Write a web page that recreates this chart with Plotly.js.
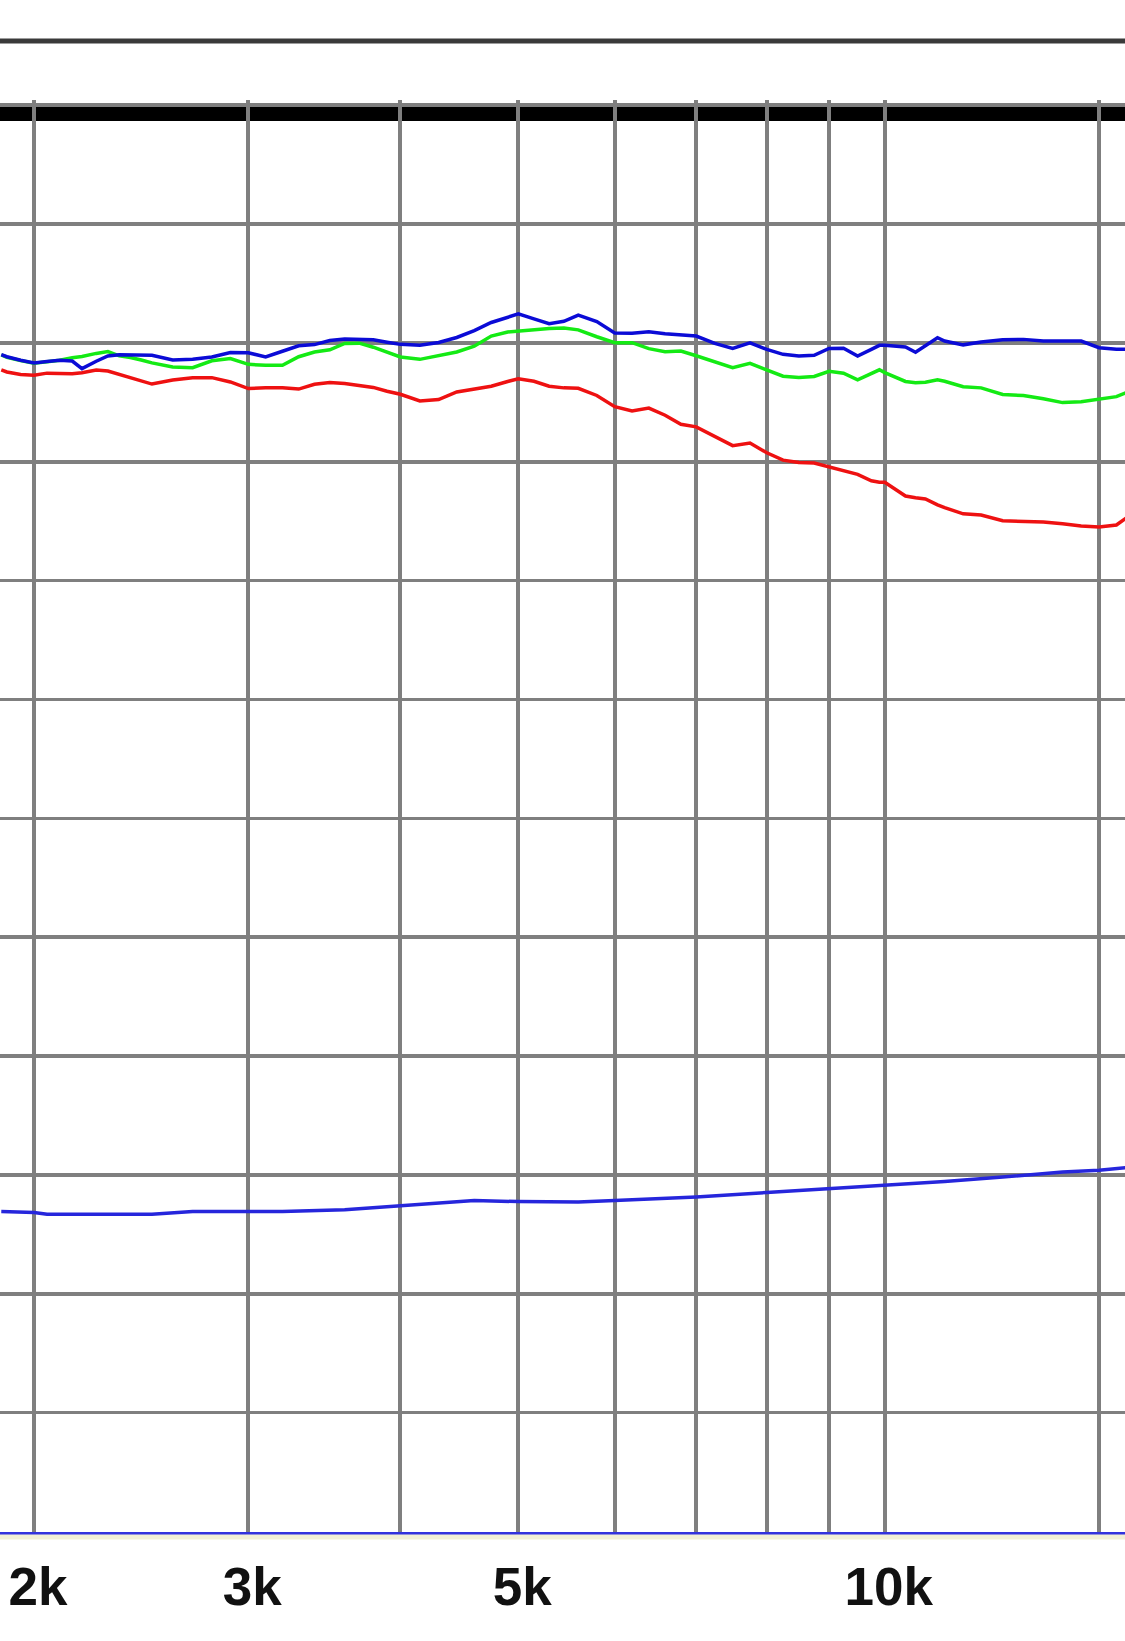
<!DOCTYPE html>
<html>
<head>
<meta charset="utf-8">
<script src="https://cdn.plot.ly/plotly-3.0.1.min.js"></script>
<style>
html,body{margin:0;padding:0;background:#fff;}
#chart{width:1125px;height:1641px;}
</style>
</head>
<body>
<div id="chart"></div>
<script>
// Frequencies (Hz) for the three measured curves
const freq = [1880,1900,1950,2000,2050,2100,2150,2190,2250,2300,2350,2400,2450,2500,2600,2700,2800,2900,3000,3100,3200,3300,3400,3500,3600,3700,3800,3900,4000,4150,4300,4450,4600,4750,4900,5000,5150,5300,5450,5600,5800,6000,6200,6400,6600,6800,7000,7250,7500,7750,8000,8250,8500,8750,9000,9250,9500,9750,9900,10000,10400,10600,10800,11050,11200,11600,12000,12500,13000,13500,14000,14500,15000,15500,15800];

// Levels (dB)
const blueDb = [-0.49,-0.58,-0.73,-0.84,-0.78,-0.73,-0.76,-1.08,-0.77,-0.55,-0.5,-0.5,-0.5,-0.52,-0.72,-0.69,-0.59,-0.4,-0.41,-0.59,-0.35,-0.12,-0.07,0.1,0.17,0.15,0.13,0.03,-0.06,-0.1,0.02,0.23,0.52,0.86,1.1,1.22,1.01,0.81,0.91,1.17,0.9,0.42,0.41,0.47,0.39,0.33,0.29,-0.02,-0.23,0.0,-0.27,-0.48,-0.55,-0.52,-0.23,-0.22,-0.55,-0.27,-0.1,-0.1,-0.17,-0.39,-0.12,0.22,0.08,-0.08,0.04,0.13,0.15,0.08,0.08,0.08,-0.2,-0.27,-0.27];

const greenDb = [-0.5,-0.6,-0.74,-0.85,-0.79,-0.73,-0.62,-0.57,-0.44,-0.36,-0.54,-0.61,-0.72,-0.84,-1.01,-1.04,-0.75,-0.66,-0.9,-0.94,-0.94,-0.58,-0.38,-0.29,-0.02,-0.01,-0.18,-0.39,-0.59,-0.69,-0.55,-0.38,-0.14,0.29,0.46,0.5,0.58,0.61,0.63,0.55,0.26,0.01,0.01,-0.24,-0.37,-0.34,-0.54,-0.79,-1.04,-0.86,-1.12,-1.4,-1.45,-1.41,-1.19,-1.27,-1.55,-1.26,-1.13,-1.25,-1.62,-1.67,-1.65,-1.55,-1.61,-1.84,-1.89,-2.17,-2.21,-2.35,-2.51,-2.47,-2.35,-2.26,-2.08];

const redDb = [-1.13,-1.22,-1.33,-1.36,-1.27,-1.29,-1.3,-1.25,-1.14,-1.18,-1.32,-1.49,-1.61,-1.73,-1.56,-1.46,-1.46,-1.64,-1.92,-1.88,-1.88,-1.94,-1.74,-1.66,-1.71,-1.78,-1.87,-2.03,-2.16,-2.44,-2.38,-2.06,-1.92,-1.82,-1.62,-1.51,-1.61,-1.82,-1.89,-1.91,-2.21,-2.68,-2.86,-2.74,-3.04,-3.42,-3.53,-3.95,-4.32,-4.21,-4.62,-4.93,-5.03,-5.05,-5.22,-5.4,-5.53,-5.8,-5.86,-5.86,-6.44,-6.51,-6.56,-6.81,-6.93,-7.19,-7.24,-7.48,-7.51,-7.53,-7.61,-7.7,-7.74,-7.66,-7.36];

// Lower blue curve
const lowFreq = [1880,2000,2050,2500,2700,3200,3600,4000,4600,5000,5600,6000,7000,8000,9000,10000,11200,12500,14000,15000,15800];
const lowDb = [-36.54,-36.58,-36.65,-36.65,-36.54,-36.54,-36.46,-36.29,-36.08,-36.12,-36.14,-36.08,-35.93,-35.74,-35.57,-35.45,-35.28,-35.09,-34.88,-34.8,-34.69];

// Axis grid and labels
const gridFreqs = [2000,3000,4000,5000,6000,7000,8000,9000,10000,15000];
const gridLabels = ['2k','3k','','5k','','','','','10k',''];
const dbGrid = [-50,-45,-40,-35,-30,-25,-20,-15,-10,-5,0,5,10];

const traces = [
  {x: freq, y: redDb, mode: 'lines', line: {color: '#ee1111', width: 3.5}, hoverinfo: 'skip'},
  {x: freq, y: greenDb, mode: 'lines', line: {color: '#14ea14', width: 3.5}, hoverinfo: 'skip'},
  {x: freq, y: blueDb, mode: 'lines', line: {color: '#0b0bd6', width: 3.5}, hoverinfo: 'skip'},
  {x: lowFreq, y: lowDb, mode: 'lines', line: {color: '#2626dc', width: 3.5}, hoverinfo: 'skip'}
];

const layout = {
  width: 1125,
  height: 1641,
  margin: {l: 0, r: 0, t: 100, b: 109, pad: 0},
  paper_bgcolor: '#ffffff',
  plot_bgcolor: '#ffffff',
  showlegend: false,
  xaxis: {
    type: 'log',
    range: [3.2731, 4.1974],
    tickmode: 'array',
    tickvals: gridFreqs,
    ticktext: gridLabels,
    showgrid: true,
    gridcolor: '#7f7f7f',
    gridwidth: 4,
    ticks: '',
    zeroline: false,
    showline: true,
    linecolor: '#3232de',
    linewidth: 3,
    ticklabelstandoff: 6,
    ticklabelshift: 4,
    tickfont: {family: 'Liberation Sans, Arial, sans-serif', size: 53, color: '#111111', weight: 'bold'}
  },
  yaxis: {
    range: [-50.02, 10.22],
    tickmode: 'array',
    tickvals: dbGrid,
    showticklabels: false,
    showgrid: true,
    gridcolor: '#7f7f7f',
    gridwidth: 3.5,
    ticks: '',
    zeroline: false,
    showline: false
  },
  shapes: [
    {type: 'line', xref: 'paper', yref: 'paper', x0: 0, x1: 1, y0: 1.0412, y1: 1.0412,
     line: {color: '#3a3a3a', width: 5}},
    {type: 'rect', xref: 'paper', yref: 'paper', x0: 0, x1: 1, y0: 0.9853, y1: 0.9958,
     fillcolor: '#000000', line: {width: 0}, layer: 'below'},
    {type: 'line', xref: 'paper', yref: 'paper', x0: 0, x1: 1, y0: -0.0035, y1: -0.0035,
     line: {color: '#f1efd6', width: 5}}
  ]
};

Plotly.newPlot('chart', traces, layout, {displayModeBar: false, staticPlot: true});
</script>
</body>
</html>
